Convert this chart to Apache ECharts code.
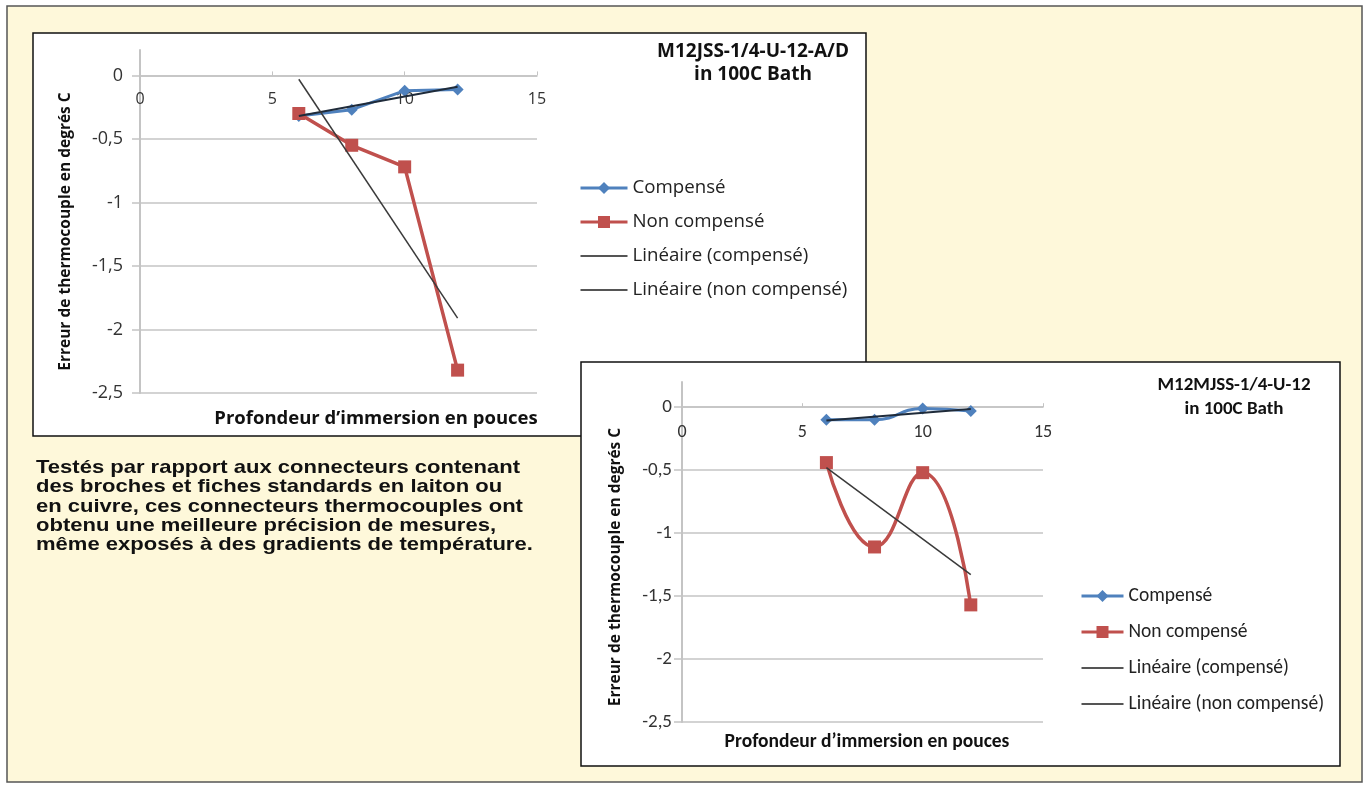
<!DOCTYPE html>
<html>
<head>
<meta charset="utf-8">
<script src="https://cdn.jsdelivr.net/npm/echarts@6/dist/echarts.min.js"></script>
<style>
html,body{margin:0;padding:0;background:#ffffff;}
#c{width:1365px;height:788px;}
</style>
</head>
<body>
<div id="c"></div>
<script>
// ---- data ----
const depth = [6, 8, 10, 12];
const comp1 = [-0.32, -0.27, -0.12, -0.11];
const nonComp1 = [-0.30, -0.55, -0.72, -2.32];
const trendDepth = [6, 12];
const trendComp1 = [-0.32, -0.09];
const trendNonComp1 = [-0.03, -1.91];
const comp2 = [-0.10, -0.10, -0.01, -0.03];
const nonComp2 = [-0.44, -1.11, -0.52, -1.57];
const trendComp2 = [-0.105, -0.015];
const trendNonComp2 = [-0.48, -1.33];
const seriesNames = ['Compensé', 'Non compensé', 'Linéaire (compensé)', 'Linéaire (non compensé)'];
const title1 = 'M12JSS-1/4-U-12-A/D\nin 100C Bath';
const title2 = 'M12MJSS-1/4-U-12\nin 100C Bath';
const xName = 'Profondeur d’immersion en pouces';
const yName = 'Erreur de thermocouple en degrés C';
const note = 'Testés par rapport aux connecteurs contenant\ndes broches et fiches standards en laiton ou\nen cuivre, ces connecteurs thermocouples ont\nobtenu une meilleure précision de mesures,\nmême exposés à des gradients de température.';
const yMin = -2.5, yMax = 0.2, yStep = 0.5;
const xMin = 0, xMax = 15, xStep = 5;

const pair = (xs, ys) => xs.map((x, i) => [x, ys[i]]);

const F1 = "'Open Sans', 'DejaVu Sans', sans-serif";
const F2 = "Carlito, 'Liberation Sans Narrow', Roboto, sans-serif";
const BLUE = '#4F81BD', RED = '#C0504D', TREND = '#3a3a3a', GRID = '#c4c4c4';

const grids = [
  { left: 140, top: 50, width: 397, height: 343 },
  { left: 682, top: 382, width: 361, height: 340 }
];

function xAx(gi, font, fs) {
  // axis crosses the value axis at 0, with its labels underneath (as in the spreadsheet chart)
  const zeroOffset = -(yMax - 0) / (yMax - yMin) * grids[gi].height;
  return {
    type: 'value', gridIndex: gi, min: xMin, max: xMax, interval: xStep,
    position: 'top', offset: zeroOffset,
    axisLine: { onZero: false, lineStyle: { color: GRID, width: 1.5 } },
    axisTick: { show: true, length: 4, lineStyle: { color: GRID } },
    splitLine: { show: false },
    axisLabel: { inside: true, color: '#333', fontSize: fs, fontFamily: font, margin: 16 }
  };
}
function yAx(gi, font, fs, gap, nameShift, labelMargin) {
  return {
    type: 'value', gridIndex: gi, min: yMin, max: yMax, interval: yStep,
    name: yName, nameLocation: 'middle', nameRotate: 90, nameGap: gap,
    nameTextStyle: { fontFamily: F1, fontWeight: 'bold', fontSize: 15.5, color: '#111', padding: [0, nameShift, 0, 0] },
    axisLine: { show: true, lineStyle: { color: GRID, width: 2 } },
    axisTick: { show: true, length: 8, lineStyle: { color: GRID, width: 1.5 } },
    splitLine: { show: true, showMaxLine: false, lineStyle: { color: GRID, width: 1.5 } },
    axisLabel: { color: '#333', fontSize: fs, fontFamily: font, margin: labelMargin, showMaxLabel: false,
      formatter: v => String(v).replace('.', ',') }
  };
}
function legend(left, top, gap, font, fs, lh, w) {
  return {
    orient: 'vertical', left: left, top: top, itemGap: gap, itemWidth: w, itemHeight: 15,
    selectedMode: false,
    data: seriesNames.map((n, i) => i < 2
      ? { name: n, lineStyle: { width: 3 } }
      : { name: n, itemStyle: { opacity: 0 }, lineStyle: { width: 2, color: '#555' } }),
    textStyle: { fontFamily: font, fontSize: fs, lineHeight: lh, color: '#222' }
  };
}

const option = {
  animation: false,
  graphic: [
    { type: 'rect', z: -10, shape: { x: 7, y: 6, width: 1355, height: 776 }, style: { fill: '#FEF8DA', stroke: '#555', lineWidth: 1.5 } },
    { type: 'rect', z: -9, shape: { x: 33, y: 33, width: 833, height: 403 }, style: { fill: '#ffffff', stroke: '#111', lineWidth: 1.5 } },
    { type: 'rect', z: -8, shape: { x: 581, y: 362, width: 759, height: 404 }, style: { fill: '#ffffff', stroke: '#111', lineWidth: 1.5 } },
    { type: 'text', z: 5, x: 36, y: 458, scaleX: 1.19, scaleY: 1, originX: 0, originY: 0,
      style: { text: note, x: 0, y: 0, verticalAlign: 'top', align: 'left',
        font: "bold 18.5px 'Liberation Sans', Arial, sans-serif", fill: '#111', lineHeight: 19.4 } }
  ],
  title: [
    { text: title1, left: 748, top: 35, textAlign: 'center',
      textStyle: { fontFamily: F1, fontWeight: 'bold', fontSize: 19, color: '#111', lineHeight: 23 } },
    { text: title2, left: 1229, top: 368, textAlign: 'center',
      textStyle: { fontFamily: F2, fontWeight: 'bold', fontSize: 19, color: '#111', lineHeight: 24 } },
    { text: xName, left: 371, top: 404, textAlign: 'center',
      textStyle: { fontFamily: F1, fontWeight: 'bold', fontSize: 18.5, color: '#111' } },
    { text: xName, left: 862, top: 727, textAlign: 'center',
      textStyle: { fontFamily: F2, fontWeight: 'bold', fontSize: 19.5, color: '#111' } }
  ],
  legend: [
    legend(574, 173, 14, F1, 18.7, 20, 47),
    legend(1075, 580, 14, F2, 19.5, 22, 42)
  ],
  grid: grids.map(g => Object.assign({ containLabel: false }, g)),
  xAxis: [xAx(0, F1, 16), xAx(1, F2, 18)],
  yAxis: [yAx(0, F1, 18, 66, 20, 17), yAx(1, F2, 19, 58, 30, 10)],
  series: [
    { name: seriesNames[0], type: 'line', xAxisIndex: 0, yAxisIndex: 0, data: pair(depth, comp1),
      symbol: 'diamond', symbolSize: 12, color: BLUE, lineStyle: { width: 3, color: BLUE }, z: 3 },
    { name: seriesNames[1], type: 'line', xAxisIndex: 0, yAxisIndex: 0, data: pair(depth, nonComp1),
      symbol: 'rect', symbolSize: 13, color: RED, lineStyle: { width: 3.5, color: RED }, z: 3 },
    { name: seriesNames[2], type: 'line', xAxisIndex: 0, yAxisIndex: 0, data: pair(trendDepth, trendComp1),
      symbol: 'none', color: TREND, lineStyle: { width: 2, color: '#1f2b3a' }, z: 4 },
    { name: seriesNames[3], type: 'line', xAxisIndex: 0, yAxisIndex: 0, data: pair(trendDepth, trendNonComp1),
      symbol: 'none', color: TREND, lineStyle: { width: 1.5, color: TREND }, z: 4 },

    { name: seriesNames[0], type: 'line', xAxisIndex: 1, yAxisIndex: 1, data: pair(depth, comp2), smooth: true,
      symbol: 'diamond', symbolSize: 12, color: BLUE, lineStyle: { width: 3, color: BLUE }, z: 3 },
    { name: seriesNames[1], type: 'line', xAxisIndex: 1, yAxisIndex: 1, data: pair(depth, nonComp2), smooth: true,
      symbol: 'rect', symbolSize: 13, color: RED, lineStyle: { width: 3.5, color: RED }, z: 3 },
    { name: seriesNames[2], type: 'line', xAxisIndex: 1, yAxisIndex: 1, data: pair(trendDepth, trendComp2),
      symbol: 'none', color: TREND, lineStyle: { width: 2, color: '#1f2b3a' }, z: 4 },
    { name: seriesNames[3], type: 'line', xAxisIndex: 1, yAxisIndex: 1, data: pair(trendDepth, trendNonComp2),
      symbol: 'none', color: TREND, lineStyle: { width: 1.5, color: TREND }, z: 4 }
  ]
};

const chart = echarts.init(document.getElementById('c'), null, { renderer: 'canvas' });
chart.setOption(option);
</script>
</body>
</html>
